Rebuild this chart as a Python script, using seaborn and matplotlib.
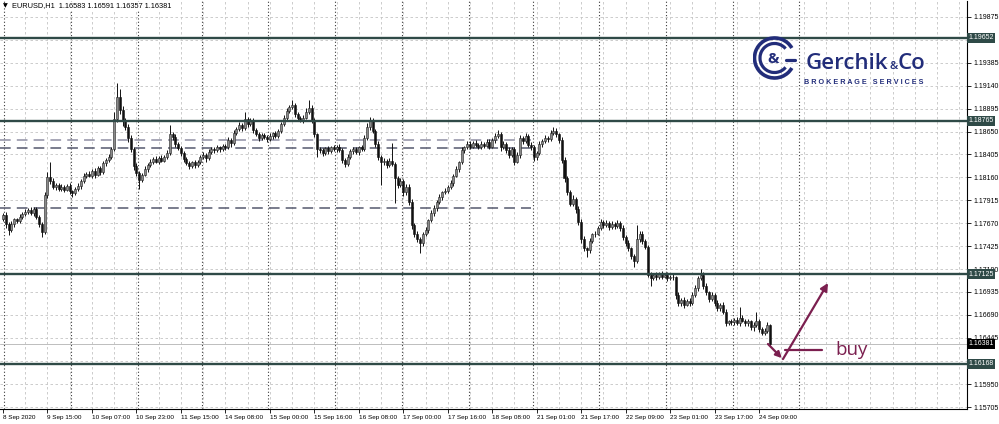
import numpy as np
import pandas as pd
import matplotlib
matplotlib.use("Agg")
import matplotlib.pyplot as plt
import seaborn as sns
from matplotlib.patches import Arc

# EURUSD H1 candles, bar 0 = 8 Sep 23:00 ------------------------------------#
first_open = 1.1772
closes = [
    1.1776, 1.1766, 1.1760, 1.1766, 1.1771, 1.1769, 1.1774, 1.1777, 1.1779, 1.1781,
    1.1778, 1.1782, 1.1774, 1.1766, 1.1758, 1.1797, 1.1816, 1.1812, 1.1806, 1.1808,
    1.1804, 1.1806, 1.1803, 1.1807, 1.1801, 1.1799, 1.1804, 1.1807, 1.1812, 1.1818,
    1.1820, 1.1818, 1.1823, 1.1819, 1.1826, 1.1822, 1.1831, 1.1835, 1.1838, 1.1846,
    1.1878, 1.1902, 1.1888, 1.1876, 1.1870, 1.1858, 1.1846, 1.1828, 1.1821, 1.1813,
    1.1819, 1.1825, 1.1829, 1.1833, 1.1836, 1.1833, 1.1837, 1.1834, 1.1838, 1.1842,
    1.1862, 1.1859, 1.1852, 1.1847, 1.1842, 1.1836, 1.1831, 1.1828, 1.1832, 1.1829,
    1.1833, 1.1838, 1.1840, 1.1837, 1.1843, 1.1846, 1.1845, 1.1848, 1.1846, 1.1850,
    1.1848, 1.1856, 1.1853, 1.1864, 1.1868, 1.1872, 1.1869, 1.1878, 1.1873, 1.1877,
    1.1867, 1.1862, 1.1858, 1.1861, 1.1859, 1.1857, 1.1860, 1.1863, 1.1860, 1.1866,
    1.1873, 1.1880, 1.1887, 1.1891, 1.1893, 1.1884, 1.1879, 1.1877, 1.1880, 1.1886,
    1.1890, 1.1877, 1.1862, 1.1846, 1.1845, 1.1842, 1.1847, 1.1844, 1.1848, 1.1846,
    1.1849, 1.1845, 1.1835, 1.1830, 1.1838, 1.1844, 1.1846, 1.1843, 1.1848, 1.1846,
    1.1858, 1.1870, 1.1876, 1.1866, 1.1852, 1.1838, 1.1832, 1.1834, 1.1829, 1.1834,
    1.1830, 1.1815, 1.1808, 1.1812, 1.1800, 1.1806, 1.1790, 1.1765, 1.1756, 1.1750,
    1.1746, 1.1755, 1.1760, 1.1770, 1.1778, 1.1783, 1.1790, 1.1795, 1.1800, 1.1802,
    1.1806, 1.1810, 1.1818, 1.1825, 1.1832, 1.1845, 1.1848, 1.1852, 1.1849, 1.1853,
    1.1851, 1.1848, 1.1852, 1.1850, 1.1854, 1.1849, 1.1856, 1.1860, 1.1862, 1.1848,
    1.1852, 1.1845, 1.1840, 1.1846, 1.1833, 1.1840, 1.1858, 1.1855, 1.1860, 1.1851,
    1.1848, 1.1838, 1.1842, 1.1852, 1.1855, 1.1858, 1.1857, 1.1864, 1.1866, 1.1862,
    1.1856, 1.1835, 1.1815, 1.1800, 1.1788, 1.1793, 1.1782, 1.1768, 1.1750, 1.1740,
    1.1738, 1.1748, 1.1755, 1.1756, 1.1762, 1.1768, 1.1765, 1.1767, 1.1763, 1.1766,
    1.1764, 1.1767, 1.1762, 1.1752, 1.1746, 1.1740, 1.1732, 1.1727, 1.1750, 1.1756,
    1.1748, 1.1742, 1.1712, 1.1708, 1.1712, 1.1709, 1.1713, 1.1710, 1.1712, 1.1708,
    1.1710, 1.1709, 1.1690, 1.1682, 1.1685, 1.1680, 1.1684, 1.1682, 1.1690, 1.1698,
    1.1708, 1.1712, 1.1700, 1.1693, 1.1686, 1.1690, 1.1682, 1.1676, 1.1680, 1.1672,
    1.1660, 1.1662, 1.1661, 1.1664, 1.1660, 1.1666, 1.1663, 1.1660, 1.1662, 1.1656,
    1.1658, 1.1662, 1.1654, 1.1650, 1.1652, 1.16583, 1.16381,
]
# wick lengths in pips above / below the body
upper_wick = [
    2, 3, 2, 3, 2, 2, 3, 2, 3, 2, 3, 2, 2, 2, 2, 3, 6, 17, 3, 2,
    2, 3, 2, 2, 3, 2, 2, 3, 2, 3, 2, 3, 2, 3, 2, 2, 3, 2, 3, 2,
    8, 15, 8, 4, 4, 3, 3, 2, 3, 2, 2, 3, 2, 3, 2, 3, 2, 3, 2, 3,
    10, 3, 3, 2, 3, 2, 2, 3, 2, 3, 2, 2, 3, 2, 3, 2, 2, 3, 2, 2,
    2, 3, 2, 3, 2, 3, 2, 8, 3, 3, 2, 2, 3, 2, 3, 2, 3, 2, 3, 2,
    2, 3, 3, 2, 6, 3, 2, 3, 3, 4, 9, 3, 2, 2, 3, 2, 2, 3, 2, 3,
    2, 3, 2, 2, 3, 2, 2, 3, 2, 3, 3, 4, 5, 3, 2, 3, 2, 3, 2, 3,
    19, 3, 2, 3, 2, 3, 3, 3, 2, 3, 2, 3, 3, 2, 3, 3, 2, 3, 2, 3,
    2, 3, 2, 3, 2, 3, 2, 3, 3, 2, 3, 2, 3, 2, 3, 3, 2, 3, 5, 3,
    3, 2, 3, 2, 3, 3, 3, 2, 4, 2, 3, 3, 2, 3, 2, 3, 2, 3, 4, 3,
    2, 3, 3, 3, 3, 4, 2, 3, 3, 3, 2, 3, 2, 3, 2, 3, 2, 3, 2, 3,
    2, 3, 2, 3, 2, 3, 2, 2, 15, 3, 3, 2, 2, 3, 2, 3, 2, 3, 2, 3,
    2, 3, 2, 3, 2, 3, 2, 3, 3, 3, 3, 6, 3, 3, 2, 3, 2, 3, 2, 3,
    3, 2, 3, 2, 3, 11, 3, 2, 3, 2, 3, 10, 3, 2, 3, 3, 1,
]
lower_wick = [
    3, 4, 6, 2, 3, 2, 2, 3, 2, 2, 2, 3, 3, 3, 6, 2, 3, 3, 2, 3,
    3, 2, 3, 2, 3, 4, 2, 2, 3, 2, 3, 2, 3, 4, 2, 3, 2, 3, 2, 2,
    2, 3, 4, 5, 3, 4, 3, 4, 3, 9, 2, 2, 3, 2, 3, 2, 3, 2, 2, 2,
    2, 3, 3, 2, 3, 3, 2, 3, 2, 3, 2, 3, 2, 4, 2, 2, 3, 2, 3, 2,
    3, 2, 4, 2, 3, 2, 3, 2, 3, 2, 3, 2, 3, 2, 2, 3, 2, 3, 2, 2,
    2, 2, 3, 2, 2, 3, 3, 2, 3, 2, 2, 3, 3, 8, 3, 3, 2, 3, 2, 2,
    3, 2, 4, 3, 2, 2, 3, 2, 3, 2, 2, 2, 3, 3, 3, 3, 24, 3, 3, 2,
    2, 26, 3, 2, 4, 3, 3, 4, 4, 3, 11, 3, 2, 3, 2, 3, 3, 2, 3, 2,
    3, 2, 3, 2, 3, 2, 3, 2, 3, 2, 3, 2, 2, 3, 2, 3, 2, 3, 2, 4,
    2, 3, 3, 2, 4, 2, 3, 3, 2, 3, 3, 4, 3, 2, 3, 2, 3, 2, 3, 3,
    3, 4, 4, 3, 3, 3, 4, 3, 4, 3, 7, 3, 2, 3, 2, 2, 3, 2, 3, 2,
    3, 2, 3, 3, 3, 3, 3, 7, 2, 3, 3, 3, 3, 8, 2, 3, 2, 3, 2, 3,
    2, 3, 4, 3, 3, 4, 2, 3, 2, 2, 3, 2, 3, 3, 3, 2, 3, 3, 3, 2,
    3, 2, 3, 3, 2, 3, 2, 3, 3, 3, 4, 2, 3, 3, 3, 2, 2,
]
pip = 0.0001

# axis labels -----------------------------------------------------------------#
time_labels = ["8 Sep 2020", "9 Sep 15:00", "10 Sep 07:00", "10 Sep 23:00", "11 Sep 15:00",
               "14 Sep 08:00", "15 Sep 00:00", "15 Sep 16:00", "16 Sep 08:00", "17 Sep 00:00",
               "17 Sep 16:00", "18 Sep 08:00", "21 Sep 01:00", "21 Sep 17:00", "22 Sep 09:00",
               "23 Sep 01:00", "23 Sep 17:00", "24 Sep 09:00"]
time_label_bars = list(range(0, 273, 16))
day_start_bars = [1, 25, 49, 72, 96, 120, 144, 168, 191, 215, 239, 263, 287]

price_ticks = [1.19875, 1.19630, 1.19385, 1.19140, 1.18895, 1.18650, 1.18405, 1.18160, 1.17915,
               1.17670, 1.17425, 1.17180, 1.16935, 1.16690, 1.16445, 1.16200, 1.15950, 1.15705]
# 1.19630 and 1.16200 sit under the level boxes, so they show no text
price_tick_labels = ["1.19875", "", "1.19385", "1.19140", "1.18895", "1.18650", "1.18405",
                     "1.18160", "1.17915", "1.17670", "1.17425", "1.17180", "1.16935", "1.16690",
                     "1.16445", "", "1.15950", "1.15705"]

# drawn levels ----------------------------------------------------------------#
solid_levels = [1.19652, 1.18765, 1.17125, 1.16168]
dashed_levels = [1.18560, 1.18474, 1.17833]
dashed_colors = ["#9090a4", "#55586e", "#55586e"]
dashed_end_bar = 190
bid_price = 1.16381

# annotation ("buy" setup)
arrow_down = [(275.2, 1.16379), (280.2, 1.16228)]
arrow_up = [(280.6, 1.16218), (296.8, 1.17031)]
buy_line = [(281.3, 1.16315), (294.6, 1.16315)]
buy_pos = (299.3, 1.16310)

title_text = "EURUSD,H1  1.16583 1.16591 1.16357 1.16381"

# Build OHLC table ------------------------------------------------------------#
df = pd.DataFrame({"close": closes, "uw": upper_wick, "lw": lower_wick})
df["open"] = [first_open] + closes[:-1]
df["bar"] = np.arange(len(df))
df["top"] = df[["open", "close"]].max(axis=1)
df["bottom"] = df[["open", "close"]].min(axis=1)
df["high"] = df["top"] + df["uw"] * pip
df["low"] = df["bottom"] - df["lw"] * pip
df["body"] = (df["top"] - df["bottom"]).clip(lower=0.00004)
bull = df["close"] >= df["open"]

# Plot ------------------------------------------------------------------------#
sns.set_theme(style="white")
plt.rcParams["font.family"] = ["Liberation Sans", "DejaVu Sans"]

fig = plt.figure(figsize=(9.99, 4.24), dpi=100, facecolor="white")
ax = fig.add_axes([0, 15 / 424, 967 / 999, 408 / 424])
ax.set_facecolor("white")
ax.set_xlim(-1.08, 346.8)
ax.set_ylim(1.15684, 1.20046)

grid_kw = dict(color="#c4c4c4", lw=0.6, ls=(0, (3, 3)), zorder=0)
for v in price_ticks:
    ax.axhline(v, **grid_kw)
for b in range(8, 347, 8):
    ax.axvline(b, **grid_kw)
for d in day_start_bars:
    ax.axvline(d - 0.5, color="#3a3a3a", lw=0.8, ls=(0, (1, 2)), zorder=0.5)

ax.axhline(bid_price, color="#bdbdbd", lw=0.7, zorder=1)

for lv, col in zip(dashed_levels, dashed_colors):
    ax.hlines(lv, -1.08, dashed_end_bar, colors=col, lw=1.1, linestyles=(0, (7, 4)), zorder=2)

ax.vlines(df["bar"], df["low"], df["high"], color="#111111", lw=0.7, zorder=3)
ax.bar(df["bar"][bull], df["body"][bull], bottom=df["bottom"][bull], width=0.72,
       facecolor="#8a8a8a", edgecolor="#222222", linewidth=0.4, zorder=4)
ax.bar(df["bar"][~bull], df["body"][~bull], bottom=df["bottom"][~bull], width=0.72,
       facecolor="#111111", edgecolor="#111111", linewidth=0.4, zorder=4)

for lv in solid_levels:
    ax.axhline(lv, color="#2f4a47", lw=1.7, zorder=5)

# buy arrows
maroon = "#7b1f4f"
ax.annotate("", xy=arrow_down[1], xytext=arrow_down[0],
            arrowprops=dict(arrowstyle="-|>", color=maroon, lw=1.6, mutation_scale=9,
                            shrinkA=0, shrinkB=0), zorder=6)
ax.annotate("", xy=arrow_up[1], xytext=arrow_up[0],
            arrowprops=dict(arrowstyle="-|>", color=maroon, lw=1.6, mutation_scale=11,
                            shrinkA=0, shrinkB=0), zorder=6)
ax.plot([p[0] for p in buy_line], [p[1] for p in buy_line], color=maroon, lw=1.6, zorder=6)
ax.text(buy_pos[0], buy_pos[1], "buy", color=maroon, fontsize=13.5, family="Open Sans",
        va="center", ha="left", zorder=6)

# axes decoration
for s in ["top", "left"]:
    ax.spines[s].set_visible(False)
for s in ["right", "bottom"]:
    ax.spines[s].set_visible(True)
    ax.spines[s].set_color("black")
    ax.spines[s].set_linewidth(0.8)

ax.yaxis.tick_right()
ax.set_yticks(price_ticks)
ax.set_yticklabels(price_tick_labels)
ax.tick_params(axis="y", right=True, left=False, labelright=True, labelleft=False,
               length=3, width=0.6, pad=1.5, labelsize=5.0, colors="black")
ax.set_xticks(time_label_bars)
ax.set_xticklabels(time_labels, ha="left")
ax.tick_params(axis="x", bottom=True, length=3, width=0.6, pad=1.5, labelsize=4.6,
               colors="black")
ax.grid(False)

# price boxes on the scale
ytr = ax.get_yaxis_transform()
for lv in solid_levels:
    ax.text(1.0012, lv, f"{lv:.5f}", transform=ytr, fontsize=5.0, color="white",
            va="center", ha="left", clip_on=False, zorder=10,
            bbox=dict(boxstyle="square,pad=0.2", fc="#2f4a47", ec="none"))
ax.text(1.0012, bid_price, f"{bid_price:.5f}", transform=ytr, fontsize=5.0, color="white",
        va="center", ha="left", clip_on=False, zorder=10,
        bbox=dict(boxstyle="square,pad=0.2", fc="black", ec="none"))

# symbol line top-left
fig.text(3 / 999, 1 - 6 / 424, "\u25bc", fontsize=4.5, color="black", va="center",
         family=["DejaVu Sans"])
fig.text(12 / 999, 1 - 6 / 424, title_text, fontsize=5.3, color="black", va="center",
         bbox=dict(boxstyle="square,pad=0.1", fc="white", ec="none"))

# logo
navy = "#222d7a"
fig.text(806 / 999, 1 - 69 / 424, "Gerchik", fontsize=16, color=navy, va="baseline",
         ha="left", family="Open Sans", weight="semibold")
fig.text(890 / 999, 1 - 69 / 424, "&", fontsize=8, color=navy, va="baseline",
         ha="left", family="Open Sans", weight="semibold")
fig.text(898 / 999, 1 - 69 / 424, "Co", fontsize=16, color=navy, va="baseline",
         ha="left", family="Open Sans", weight="semibold")
fig.text(804 / 999, 1 - 84 / 424, "B R O K E R A G E   S E R V I C E S", fontsize=5.2,
         color=navy, va="baseline", ha="left", weight="bold")

lax = fig.add_axes([752 / 999, 1 - 80 / 424, 45 / 999, 44 / 424])
lax.set_xlim(-1.1, 1.1)
lax.set_ylim(-1.1, 1.1)
lax.set_aspect("equal")
lax.axis("off")
lax.add_patch(Arc((0, 0), 2.0, 2.0, theta1=30, theta2=330, lw=2.6, color=navy))
lax.add_patch(Arc((0, 0), 1.45, 1.45, theta1=40, theta2=320, lw=2.3, color=navy))
lax.plot([0.55, 1.0], [-0.08, -0.08], color=navy, lw=2.3)
lax.text(-0.08, -0.05, "&", fontsize=11, color=navy, ha="center", va="center",
         family="Open Sans", weight="bold")

fig.savefig("out.png", dpi=100, facecolor="white")
